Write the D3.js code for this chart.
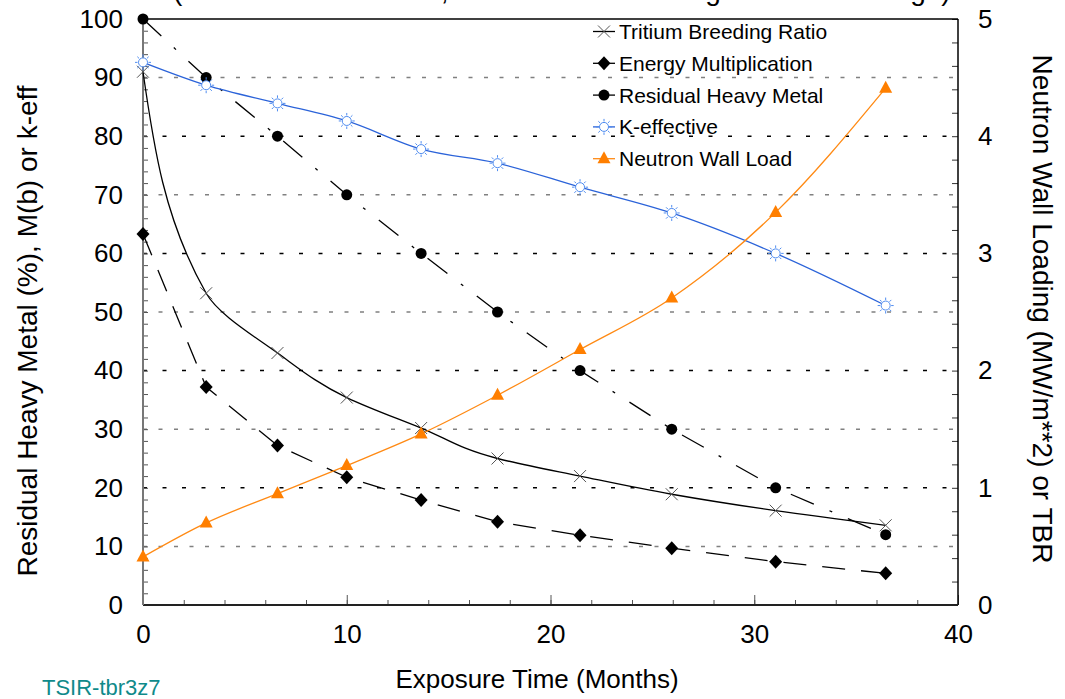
<!DOCTYPE html>
<html>
<head>
<meta charset="utf-8">
<script src="https://cdn.jsdelivr.net/npm/d3@7"></script>
<style>
  html, body { margin: 0; padding: 0; background: #ffffff; }
  svg { display: block; font-family: "Liberation Sans", Arial, sans-serif; }
</style>
</head>
<body>
<script>
// ---------------- data ----------------
const months      = [0, 3.1, 6.6, 10.0, 13.65, 17.4, 21.45, 25.95, 31.05, 36.45];
const residualHM  = [100, 90, 80, 70, 60, 50, 40, 30, 20, 12];
const energyMult  = [63.3, 37.2, 27.2, 21.8, 17.9, 14.2, 11.9, 9.7, 7.4, 5.4];
const kEffective  = [92.6, 88.7, 85.6, 82.6, 77.8, 75.4, 71.3, 66.9, 60.0, 51.1];
const tbr         = [4.55, 2.66, 2.15, 1.77, 1.51, 1.25, 1.10, 0.945, 0.805, 0.68];
const wallLoad    = [0.41, 0.70, 0.95, 1.19, 1.46, 1.79, 2.18, 2.62, 3.35, 4.41];

const xTicks      = [0, 10, 20, 30, 40];
const yLeftTicks  = [0, 10, 20, 30, 40, 50, 60, 70, 80, 90, 100];
const yRightTicks = [0, 1, 2, 3, 4, 5];
const gridValues  = [10, 20, 30, 40, 50, 60, 70, 80, 90];

const legendLabels = ["Tritium Breeding Ratio", "Energy Multiplication", "Residual Heavy Metal", "K-effective", "Neutron Wall Load"];
const titleText   = "(TRU Fuel Zone Data, Multi Batch Refueling Scheme Average)";
const xTitle      = "Exposure Time (Months)";
const yLeftTitle  = "Residual Heavy Metal (%), M(b) or k-eff";
const yRightTitle = "Neutron Wall Loading (MW/m**2) or TBR";
const tagText     = "TSIR-tbr3z7";

// ---------------- layout ----------------
const W = 1065, H = 699;
const L = 143, R = 958, T = 19, B = 605;
const FONT = '"Liberation Sans", Arial, sans-serif';

const x  = d3.scaleLinear().domain([0, 40]).range([L, R]);
const yL = d3.scaleLinear().domain([0, 100]).range([B, T]);
const yR = d3.scaleLinear().domain([0, 5]).range([B, T]);

const svg = d3.select("body").append("svg").attr("width", W).attr("height", H);

// clipped title (only the bottom of its glyphs shows in the reference)
svg.append("text").attr("x", 173).attr("y", -0.5)
  .attr("font-size", 28).attr("fill", "#000").text(titleText);

// ---------------- grid ----------------
svg.append("g").selectAll("line").data(gridValues).join("line")
  .attr("x1", L).attr("x2", R)
  .attr("y1", d => yL(d)).attr("y2", d => yL(d))
  .attr("stroke", d => (d % 20 === 0) ? "#000" : "#808080")
  .attr("stroke-width", 1.5)
  .attr("stroke-dasharray", d => (d % 20 === 0) ? "4,15.5" : "4,11.5");

// ---------------- axes ticks (inside) ----------------
function cleanAxis(g, color) {
  g.select(".domain").remove();
  g.selectAll(".tick line").attr("stroke", color);
}
svg.append("g").attr("transform", `translate(${L},0)`)
  .call(d3.axisRight(yL).tickValues(d3.range(0, 101, 2)).tickSize(5).tickFormat(""))
  .call(g => cleanAxis(g, "#555"));
svg.append("g").attr("transform", `translate(0,${B})`)
  .call(d3.axisTop(x).tickValues(d3.range(0, 41, 2)).tickSize(5).tickFormat(""))
  .call(g => cleanAxis(g, "#555"));
svg.append("g").attr("transform", `translate(0,${B})`)
  .call(d3.axisTop(x).tickValues(xTicks).tickSize(10).tickFormat(""))
  .call(g => cleanAxis(g, "#555"));
svg.append("g").attr("transform", `translate(${R},0)`)
  .call(d3.axisLeft(yR).tickValues(d3.range(0, 26, 1).map(i => i * 0.2)).tickSize(6).tickFormat(""))
  .call(g => cleanAxis(g, "#333"));

function labelAxis(g) {
  g.select(".domain").remove();
  g.selectAll(".tick line").remove();
  g.selectAll("text").attr("font-size", 26).attr("font-family", FONT).attr("fill", "#000");
}
svg.append("g").attr("transform", `translate(${L},0)`)
  .call(d3.axisLeft(yL).tickValues(yLeftTicks).tickSize(0).tickPadding(20).tickFormat(d3.format("d")))
  .call(labelAxis);
svg.append("g").attr("transform", `translate(${R},0)`)
  .call(d3.axisRight(yR).tickValues(yRightTicks).tickSize(0).tickPadding(20).tickFormat(d3.format("d")))
  .call(labelAxis);
svg.append("g").attr("transform", `translate(0,${B})`)
  .call(d3.axisBottom(x).tickValues(xTicks).tickSize(0).tickPadding(19.5).tickFormat(d3.format("d")))
  .call(labelAxis);

// frame
svg.append("line").attr("x1", L).attr("x2", R).attr("y1", T).attr("y2", T).attr("stroke", "#000").attr("stroke-width", 1.5);
svg.append("line").attr("x1", R).attr("x2", R).attr("y1", T).attr("y2", B).attr("stroke", "#000").attr("stroke-width", 1.5);
svg.append("line").attr("x1", L).attr("x2", R).attr("y1", B).attr("y2", B).attr("stroke", "#222").attr("stroke-width", 2);
svg.append("line").attr("x1", L).attr("x2", L).attr("y1", T).attr("y2", B).attr("stroke", "#777").attr("stroke-width", 2);

// ---------------- series ----------------
const COL_BLUE = "#2b63d9", COL_BLUE_M = "#4f8cf0", COL_ORANGE = "#ff8a14", COL_ORANGE_M = "#ff7f00";

const ptsL = vals => months.map((m, i) => [x(m), yL(vals[i])]);
const ptsR = vals => months.map((m, i) => [x(m), yR(vals[i])]);

const series = [
  { name: legendLabels[0], pts: ptsR(tbr),        curve: d3.curveMonotoneY, color: "#000", width: 1.3, dash: null,          marker: "x" },
  { name: legendLabels[1], pts: ptsL(energyMult), curve: d3.curveLinear,    color: "#000", width: 1.3, dash: "23,16",       marker: "diamond" },
  { name: legendLabels[2], pts: ptsL(residualHM), curve: d3.curveLinear,    color: "#000", width: 1.3, dash: "25,17,3,17",  marker: "circle" },
  { name: legendLabels[3], pts: ptsL(kEffective), curve: d3.curveMonotoneX, color: COL_BLUE, width: 1.3, dash: null,        marker: "sun" },
  { name: legendLabels[4], pts: ptsR(wallLoad),   curve: d3.curveMonotoneX, color: COL_ORANGE, width: 1.3, dash: null,      marker: "triangle" }
];

function drawMarker(g, type, cx, cy) {
  const m = g.append("g").attr("transform", `translate(${cx},${cy})`);
  if (type === "circle") {
    m.append("circle").attr("r", 5.5).attr("fill", "#000");
  } else if (type === "diamond") {
    m.append("path").attr("d", "M0,-7L6.5,0L0,7L-6.5,0Z").attr("fill", "#000");
  } else if (type === "triangle") {
    m.append("path").attr("d", "M0,-7.5L6.5,4.5L-6.5,4.5Z").attr("fill", COL_ORANGE_M);
  } else if (type === "x") {
    m.append("path").attr("d", "M-6,-6L6,6M-6,6L6,-6").attr("stroke", "#555").attr("stroke-width", 1).attr("fill", "none");
  } else if (type === "sun") {
    m.append("circle").attr("r", 4.5).attr("fill", "#fff").attr("stroke", COL_BLUE_M).attr("stroke-width", 1);
    for (let k = 0; k < 8; k++) {
      const a = k * Math.PI / 4;
      m.append("line")
        .attr("x1", Math.cos(a) * 5.5).attr("y1", Math.sin(a) * 5.5)
        .attr("x2", Math.cos(a) * 8).attr("y2", Math.sin(a) * 8)
        .attr("stroke", COL_BLUE_M).attr("stroke-width", 1);
    }
  }
}

const plot = svg.append("g");
series.forEach(s => {
  plot.append("path")
    .attr("d", d3.line().curve(s.curve)(s.pts))
    .attr("fill", "none").attr("stroke", s.color).attr("stroke-width", s.width)
    .attr("stroke-dasharray", s.dash);
});
series.forEach(s => {
  const g = plot.append("g");
  s.pts.forEach(p => drawMarker(g, s.marker, p[0], p[1]));
});

// ---------------- legend ----------------
const lg = svg.append("g");
series.forEach((s, i) => {
  const cy = 31.5 + i * 31.8;
  lg.append("line").attr("x1", 593).attr("x2", 615).attr("y1", cy).attr("y2", cy)
    .attr("stroke", s.color).attr("stroke-width", 1.3);
  drawMarker(lg, s.marker, 604, cy);
  lg.append("text").attr("x", 619).attr("y", cy).attr("dy", "0.36em")
    .attr("font-size", 21).attr("fill", "#000").text(s.name);
});

// ---------------- titles ----------------
svg.append("text").attr("x", 537).attr("y", 688).attr("text-anchor", "middle")
  .attr("font-size", 26).attr("fill", "#000").text(xTitle);
svg.append("text").attr("transform", "translate(37,331) rotate(-90)").attr("text-anchor", "middle")
  .attr("font-size", 28).attr("fill", "#000").text(yLeftTitle);
svg.append("text").attr("transform", "translate(1033,309) rotate(90)").attr("text-anchor", "middle")
  .attr("font-size", 28).attr("fill", "#000").text(yRightTitle);
svg.append("text").attr("x", 42).attr("y", 695)
  .attr("font-size", 22).attr("fill", "#0f8a8a").text(tagText);
</script>
</body>
</html>
